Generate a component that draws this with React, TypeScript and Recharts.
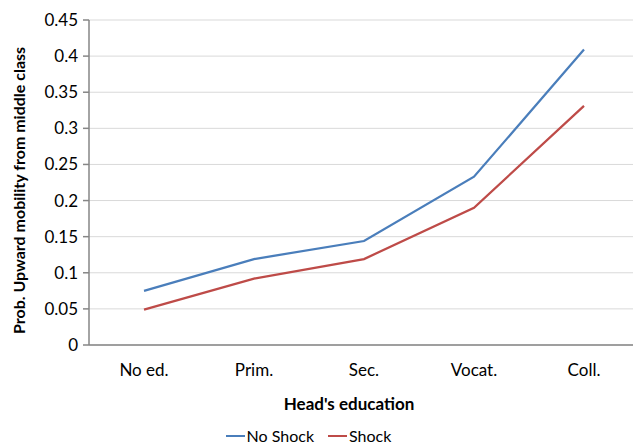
import { CartesianGrid, Label, Legend, Line, LineChart, XAxis, YAxis } from "recharts";

const categories = ["No ed.", "Prim.", "Sec.", "Vocat.", "Coll."];
const noShock = [0.075, 0.119, 0.144, 0.233, 0.409];
const shock = [0.049, 0.092, 0.119, 0.19, 0.331];
const yTicks = [0, 0.05, 0.1, 0.15, 0.2, 0.25, 0.3, 0.35, 0.4, 0.45];

const data = categories.map((c, i) => ({ cat: c, noShock: noShock[i], shock: shock[i] }));

const FONT = "Lato, 'Open Sans', sans-serif";
const BLUE = "#4a7ebb";
const RED = "#be4b48";
const AXIS = "#868686";

function LegendBox() {
  const item = (color: string, text: string) => (
    <span style={{ display: "inline-flex", alignItems: "center", marginRight: 14 }}>
      <span style={{ display: "inline-block", width: 19, height: 2, background: color, marginRight: 2 }} />
      <span>{text}</span>
    </span>
  );
  return (
    <div style={{ display: "flex", justifyContent: "center", fontFamily: FONT, fontSize: 16, color: "#000", paddingRight: 2 }}>
      {item(BLUE, "No Shock")}
      {item(RED, "Shock")}
    </div>
  );
}

export default function App() {
  return (
    <div style={{ position: "absolute", left: 0, top: 0, width: 633, height: 446, overflow: "hidden", background: "#fff" }}>
      <LineChart width={645} height={446} data={data} margin={{ top: 20, right: 6, bottom: 5, left: 0 }}>
        <CartesianGrid stroke="#d9d9d9" vertical={false} />
        <XAxis
          dataKey="cat"
          height={60}
          padding={{ left: 55, right: 55 }}
          stroke={AXIS}
          strokeWidth={1.5}
          tickLine={false}
          tick={{ fill: "#000", fontSize: 17, fontFamily: FONT }}
          tickMargin={13}
        >
          <Label value="Head's education" position="center" dx={-15} dy={29}
            style={{ fontFamily: FONT, fontSize: 17, fontWeight: 700, fill: "#000" }} />
        </XAxis>
        <YAxis
          width={89}
          domain={[0, 0.45]}
          ticks={yTicks}
          interval={0}
          stroke={AXIS}
          strokeWidth={1.5}
          tickSize={6}
          tickMargin={5}
          tick={{ fill: "#000", fontSize: 17, fontFamily: FONT }}
        >
          <Label value="Prob. Upward mobility from middle class" angle={-90} position="center" dx={-25} dy={8}
            style={{ fontFamily: FONT, fontSize: 16, fontWeight: 700, fill: "#000" }} />
        </YAxis>
        <Legend verticalAlign="bottom" height={36} content={() => <LegendBox />}
          wrapperStyle={{ left: 0, width: 633, top: 426 }} />
        <Line dataKey="noShock" name="No Shock" stroke={BLUE} strokeWidth={2.25} dot={false} isAnimationActive={false} />
        <Line dataKey="shock" name="Shock" stroke={RED} strokeWidth={2.25} dot={false} isAnimationActive={false} />
      </LineChart>
    </div>
  );
}
